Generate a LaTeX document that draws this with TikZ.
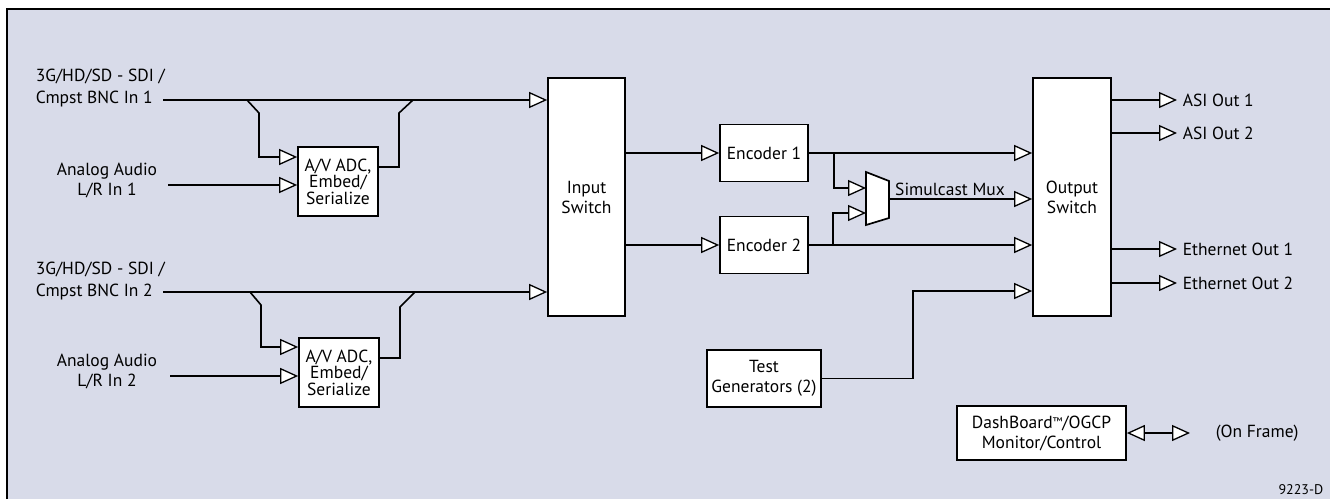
\documentclass[tikz,border=0pt]{standalone}
\usepackage{fontspec}
\setmainfont{PT Sans}
\usetikzlibrary{arrows.meta,calc}
\definecolor{bgc}{RGB}{216,219,233}
\begin{document}
\begin{tikzpicture}[x=1pt,y=-1pt,
  font=\fontsize{17.5}{20}\selectfont,
  line width=1.6pt,
  blk/.style={draw, fill=white, line width=1.7pt, inner sep=0pt, align=center},
  lbl/.style={inner sep=0pt},
  oa/.style={-{Triangle[length=18pt,width=16pt,fill=white,line width=1.3pt]}},
  ao/.style={{Triangle[length=18pt,width=16pt,fill=white,line width=1.3pt]}-{Triangle[length=18pt,width=16pt,fill=white,line width=1.3pt]}}]
\useasboundingbox (0,0) rectangle (1330,499);
\fill[white] (0,0) rectangle (1330,499);
\fill[bgc] (7,9) rectangle (1330,499);
\draw[line width=2pt] (7,499) -- (7,9) -- (1330,9);

% blocks
\node[blk, minimum width=77pt, minimum height=238pt] (insw) at (586.5,197) {Input\\Switch};
\node[blk, minimum width=78pt, minimum height=238pt] (outsw) at (1072,197) {Output\\Switch};
\node[blk, minimum width=80pt, minimum height=69pt, font=\fontsize{17.5}{16.5}\selectfont] (adc1) at (338,181.5) {A/V ADC,\\Embed/\\Serialize};
\node[blk, minimum width=80pt, minimum height=69pt, font=\fontsize{17.5}{16.5}\selectfont] (adc2) at (339,372.5) {A/V ADC,\\Embed/\\Serialize};
\node[blk, minimum width=88pt, minimum height=57pt] (enc1) at (764,153) {Encoder 1};
\node[blk, minimum width=88pt, minimum height=57pt] (enc2) at (764,245) {Encoder 2};
\node[blk, minimum width=114pt, minimum height=57pt] (tg) at (764,378.5) {Test\\Generators (2)};
\node[blk, minimum width=169pt, minimum height=54pt] (dash) at (1041.5,433) {DashBoard{\fontsize{11}{11}\selectfont\raisebox{3pt}{™}}/OGCP\\Monitor/Control};

% mux
\draw[fill=white, line width=1.7pt] (866,172) -- (889,181) -- (889,218) -- (866,225) -- cycle;
\coordinate (mi1) at (866,188);
\coordinate (mi2) at (866,213);
\coordinate (mo) at (889,199);
\node[lbl] (muxl) at (950,189) {Simulcast Mux};

% input labels
\node[lbl, anchor=west, align=left, font=\fontsize{17.5}{22}\selectfont] (l1) at (35,88) {3G/HD/SD - SDI /\\Cmpst BNC In 1};
\node[lbl, align=center] (a1) at (107,180) {Analog Audio\\L/R In 1};
\node[lbl, anchor=west, align=left, font=\fontsize{17.5}{22}\selectfont] (l2) at (35,281) {3G/HD/SD - SDI /\\Cmpst BNC In 2};
\node[lbl, align=center] (a2) at (107,371) {Analog Audio\\L/R In 2};

% input 1
\coordinate (in1) at (163,100);
\draw[oa] (in1) -- (in1 -| insw.west);
\coordinate (j1) at (247,100);
\draw[oa] (j1) -- (259,113) |- ([yshift=24.5pt]adc1.west);
\coordinate (aa1) at (168,185);
\draw[oa] (aa1) -- (aa1 -| adc1.west);
\coordinate (k1) at (413,100);
\draw ([yshift=14.5pt]adc1.east) -| (399,113) -- (k1);

% input 2
\coordinate (in2) at (163,292);
\draw[oa] (in2) -- (in2 -| insw.west);
\coordinate (j2) at (250,292);
\draw[oa] (j2) -- (261,305) |- ([yshift=25.5pt]adc2.west);
\coordinate (aa2) at (170,376);
\draw[oa] (aa2) -- (aa2 -| adc2.west);
\coordinate (k2) at (415,292);
\draw ([yshift=14.5pt]adc2.east) -| (400,307) -- (k2);

% switch to encoders
\draw[oa] (insw.east |- enc1.west) -- (enc1.west);
\draw[oa] (insw.east |- enc2.west) -- (enc2.west);

% encoders to output switch
\draw[oa] (enc1.east) -- (enc1.east -| outsw.west);
\draw[oa] (enc2.east) -- (enc2.east -| outsw.west);
\coordinate (e1j) at (834,153);
\coordinate (e2j) at (833,245);
\draw[oa] (e1j) |- (mi1);
\draw[oa] (e2j) |- (mi2);
\draw[oa] (mo) -- (mo -| outsw.west);

% test generators
\coordinate (tgc) at (913,291);
\draw[oa] (tg.east) -| (tgc) -- (tgc -| outsw.west);

% outputs
\coordinate (o1) at (1177,100);
\coordinate (o2) at (1177,133);
\coordinate (o3) at (1177,249);
\coordinate (o4) at (1177,283);
\draw[oa] (outsw.east |- o1) -- (o1);
\draw[oa] (outsw.east |- o2) -- (o2);
\draw[oa] (outsw.east |- o3) -- (o3);
\draw[oa] (outsw.east |- o4) -- (o4);
\node[lbl, anchor=west] (t1) at (1182,100) {ASI Out 1};
\node[lbl, anchor=west] (t2) at (1182,133) {ASI Out 2};
\node[lbl, anchor=west] (t3) at (1182,249) {Ethernet Out 1};
\node[lbl, anchor=west] (t4) at (1182,283) {Ethernet Out 2};

% dashboard
\coordinate (of) at (1190,433);
\draw[ao] (dash.east) -- (of);
\node[lbl, anchor=west] (ofl) at (1215,433) {(On Frame)};
\node[lbl, anchor=east, font=\fontsize{14}{16}\selectfont] (fig) at (1324,490) {9223-D};
\end{tikzpicture}
\end{document}
